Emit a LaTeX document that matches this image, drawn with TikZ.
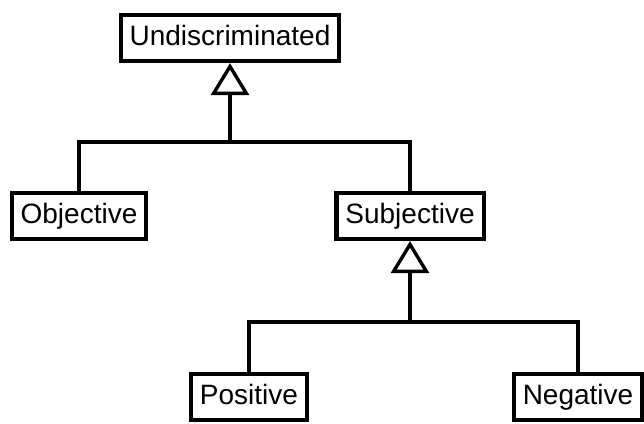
\documentclass[tikz,border=0pt]{standalone}
\usepackage{fontspec}
\setmainfont{Liberation Sans}
\usepackage{tikz}
\usepackage{xcolor}
\usetikzlibrary{arrows.meta,positioning,calc}
\definecolor{InkBlack}{HTML}{000000}
\tikzset{
  classbox/.style={draw=InkBlack, fill=white, line width=4.2pt, align=center, inner xsep=9pt, inner ysep=0pt, minimum height=46pt, text height=20pt, text depth=5pt},
  link/.style={line width=3.4pt, draw=InkBlack},
  inherit/.style={link, -{Triangle[open, length=32pt, width=38pt, line join=miter]}}
}

\begin{document}
\begin{tikzpicture}[
    x=1pt, y=-1pt,
    every node/.style={
        font=\fontsize{28}{33}\selectfont
    }
]
\useasboundingbox (0,0) rectangle (644,423);

\node[classbox] (und) at (230,38)
    {Undiscriminated};

\node[classbox] (obj) at (79,216)
    {Objective};

\node[classbox] (subj) at (410,216)
    {Subjective};

\node[classbox] (pos) at (249,397)
    {Positive};

\node[classbox] (neg) at (578,397)
    {Negative};

\coordinate (top fork) at (230,142);
\coordinate (low fork) at (410,322);

\draw[link] (obj.north) |- (top fork) -| (subj.north);
\draw[inherit] (top fork) -- (und.south);
\draw[link] (pos.north) |- (low fork) -| (neg.north);
\draw[inherit] (low fork) -- (subj.south);
\end{tikzpicture}
\end{document}
